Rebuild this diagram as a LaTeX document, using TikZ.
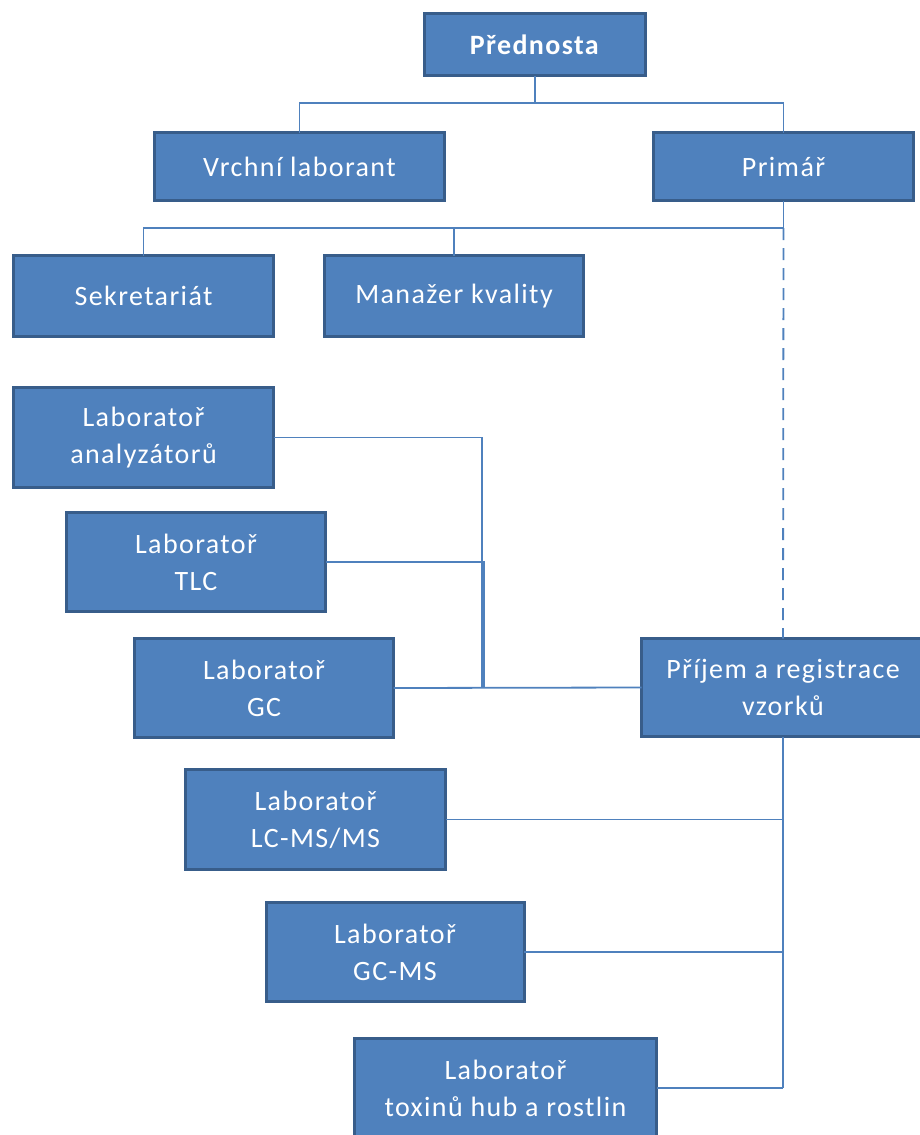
\documentclass[tikz,border=0pt]{standalone}
\usepackage{fontspec}
\setmainfont{Carlito}[LetterSpace=5]
\definecolor{boxfill}{HTML}{4F81BD}
\definecolor{boxline}{HTML}{385D8A}
\definecolor{conn}{HTML}{4F81BD}
\tikzset{
  orgbox/.style={draw=boxline, fill=boxfill, line width=3pt, text=white,
    align=center, inner sep=0pt, outer sep=0pt,
    font=\fontsize{28}{37}\selectfont},
  link/.style={draw=conn, line width=1.8pt},
  dlink/.style={draw=conn, line width=1.8pt, dash pattern=on 12pt off 8pt}
}
\begin{document}
\begin{tikzpicture}[x=1pt,y=-1pt]
\clip (0,0) rectangle (920,1135);
\useasboundingbox (0,0) rectangle (920,1135);
% nodes
\node[orgbox, minimum width=221pt, minimum height=62pt] (pred) at (535,44.5) {\textbf{Přednosta}};
\node[orgbox, minimum width=290pt, minimum height=68pt] (vrch) at (299.5,166.5) {Vrchní laborant};
\node[orgbox, minimum width=260pt, minimum height=68pt] (prim) at (783.5,166.5) {Primář};
\node[orgbox, minimum width=260pt, minimum height=81pt] (sekr) at (143.5,296) {\raisebox{-2pt}{Sekretariát}};
\node[orgbox, minimum width=259pt, minimum height=81pt] (manaz) at (454,296) {\raisebox{-2pt}{Manažer kvality}};
\node[orgbox, minimum width=260pt, minimum height=100pt] (anal) at (143.5,437.5) {Laboratoř\\analyzátorů};
\node[orgbox, minimum width=259pt, minimum height=99pt] (tlc) at (196,562) {Laboratoř\\TLC};
\node[orgbox, minimum width=259pt, minimum height=99pt] (gc) at (264,688) {Laboratoř\\GC};
\node[orgbox, minimum width=283pt, minimum height=98pt] (prij) at (783,687.5) {Příjem a registrace\\vzorků};
\node[orgbox, minimum width=260pt, minimum height=100pt] (lcms) at (315.5,819.5) {Laboratoř\\LC-MS/MS};
\node[orgbox, minimum width=258pt, minimum height=99pt] (gcms) at (395,952) {Laboratoř\\GC-MS};
\node[orgbox, minimum width=302pt, minimum height=99pt] (tox) at (505.5,1088) {Laboratoř\\toxinů hub a rostlin};
% junctions
\coordinate (j1) at (535,103);
\coordinate (j2) at (783.5,228);
\coordinate (j3) at (482,688);
\coordinate (j4) at (484,688);
\coordinate (j5) at (783,1088);
% connectors
\draw[link] (pred.south) -- (j1) -| (vrch.north);
\draw[link] (j1) -| (prim.north);
\draw[link] (prim.south) -- (j2) -| (sekr.north);
\draw[link] (j2) -| (manaz.north);
\draw[dlink] (j2) -- (prij.north);
\draw[link] (anal.east) -| (j3);
\draw[link] (tlc.east) -| (j4);
\draw[link] (gc.east) -- (prij.west);
\draw[link] (prij.south) -- (j5);
\draw[link] (lcms.east) -| (j5);
\draw[link] (gcms.east) -| (j5);
\draw[link] (tox.east) -- (j5);
\end{tikzpicture}
\end{document}
